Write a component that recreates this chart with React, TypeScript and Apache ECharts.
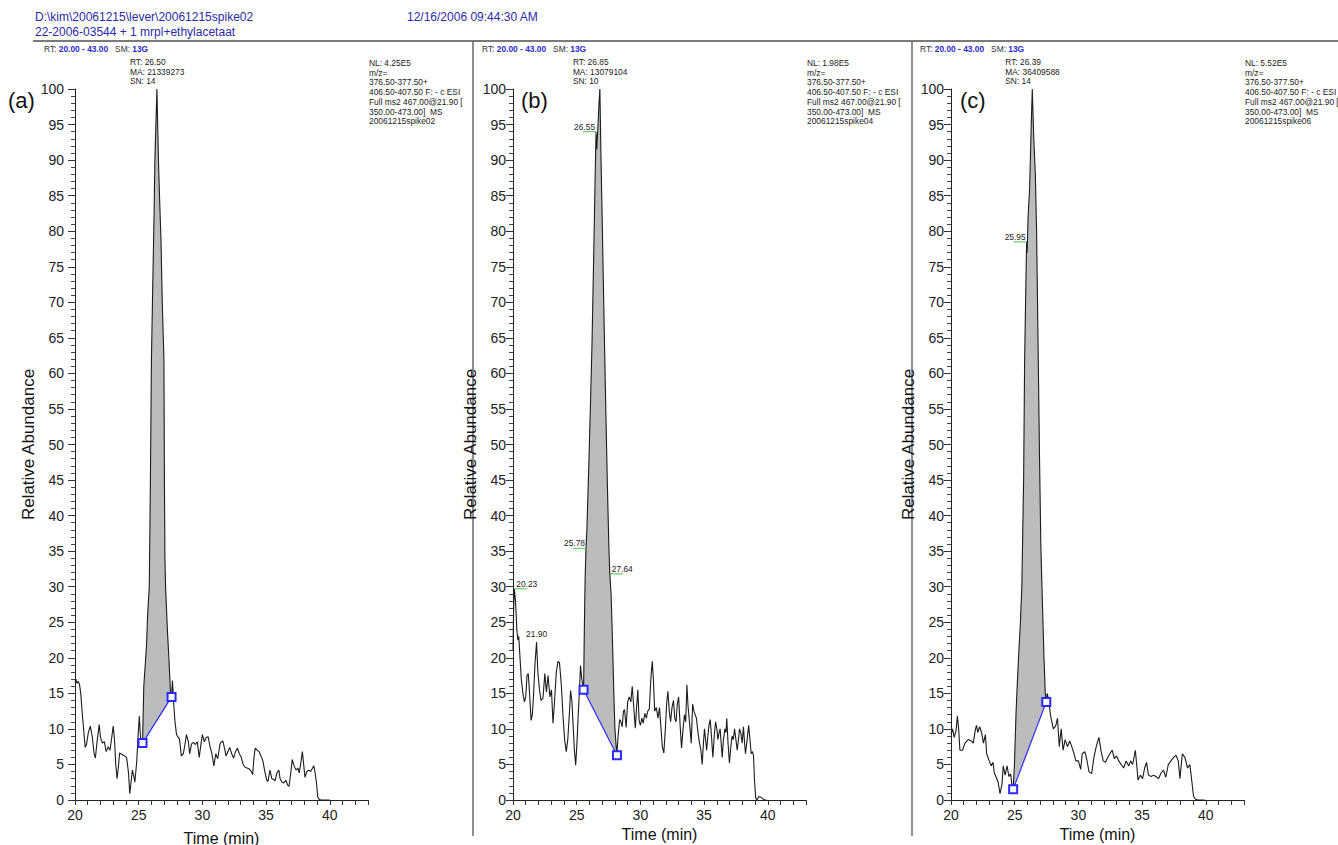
import React, { useEffect, useRef } from "react";
import * as echarts from "echarts";

// ---------- data ----------
const X_MIN = 20;
const X_MAX = 43;
const xLabelValues = [20, 25, 30, 35, 40];

const traceA: [number, number][] = [
  [20.0, 16.6], [20.08, 17.0], [20.15, 16.4], [20.25, 16.7], [20.35, 16.3], [20.45, 15.0], [20.6, 11.5], [20.8, 7.4],
  [20.9, 7.8], [21.05, 9.5], [21.2, 10.4], [21.35, 9.0], [21.5, 6.5], [21.6, 5.9], [21.75, 8.5], [21.9, 10.6],
  [22.0, 8.8], [22.15, 8.0], [22.3, 8.2], [22.45, 6.8], [22.6, 7.5], [22.75, 7.0], [22.9, 9.0], [23.0, 10.4],
  [23.1, 8.5], [23.2, 5.0], [23.3, 3.0], [23.4, 4.5], [23.5, 6.6], [23.7, 6.4], [23.9, 6.2], [24.05, 6.0],
  [24.2, 3.8], [24.3, 0.9], [24.4, 2.5], [24.5, 4.2], [24.6, 3.5], [24.7, 2.5], [24.85, 5.5], [24.95, 9.0],
  [25.05, 11.8], [25.15, 8.5], [25.3, 8.0], [25.4, 16.0], [25.55, 20.0], [25.62, 22.0], [25.7, 26.0], [25.83, 30.0],
  [25.92, 45.0], [26.0, 62.0], [26.1, 72.0], [26.2, 81.6], [26.27, 90.0], [26.43, 100.0], [26.55, 90.0],
  [26.65, 84.0], [26.75, 78.8], [26.85, 70.0], [26.98, 62.0], [27.02, 45.0], [27.06, 34.0], [27.11, 30.0],
  [27.25, 24.0], [27.37, 20.0], [27.5, 15.0], [27.58, 14.6], [27.65, 16.8], [27.75, 13.5], [27.85, 11.0],
  [27.97, 9.2], [28.1, 8.8], [28.2, 8.6], [28.35, 6.2], [28.5, 6.5], [28.65, 8.0], [28.75, 9.2], [28.9, 8.2],
  [29.0, 6.5], [29.15, 7.9], [29.3, 8.1], [29.45, 7.8], [29.6, 8.2], [29.75, 6.0], [29.9, 8.0], [30.0, 9.2],
  [30.15, 8.2], [30.3, 8.8], [30.45, 8.9], [30.6, 7.5], [30.75, 6.5], [30.9, 4.8], [31.05, 6.5], [31.2, 5.8],
  [31.4, 8.0], [31.6, 8.3], [31.75, 7.2], [31.85, 6.2], [32.0, 6.8], [32.15, 7.4], [32.3, 6.5], [32.45, 5.9],
  [32.6, 6.8], [32.75, 7.3], [32.9, 6.5], [33.05, 6.0], [33.2, 5.0], [33.35, 4.6], [33.5, 4.5], [33.65, 4.4],
  [33.8, 4.1], [33.95, 3.6], [34.05, 6.0], [34.15, 7.3], [34.3, 7.0], [34.45, 6.8], [34.6, 6.2], [34.75, 5.5],
  [34.9, 4.0], [35.05, 2.8], [35.15, 2.6], [35.3, 4.2], [35.45, 3.0], [35.6, 2.9], [35.7, 2.7], [35.85, 3.8],
  [36.0, 4.2], [36.1, 3.0], [36.25, 2.5], [36.4, 2.4], [36.55, 2.8], [36.7, 2.1], [36.8, 1.9], [36.95, 4.0],
  [37.05, 5.7], [37.2, 4.8], [37.35, 4.2], [37.5, 4.5], [37.6, 3.8], [37.75, 5.5], [37.85, 6.8], [37.95, 5.0],
  [38.05, 3.2], [38.2, 4.0], [38.35, 4.2], [38.5, 4.0], [38.65, 4.5], [38.75, 4.8], [38.85, 3.8], [38.95, 2.5],
  [39.05, 0.5], [39.15, 0.1], [39.3, 0.0], [40.0, 0.0],
];

const traceB: [number, number][] = [
  [20.0, 21], [20.04, 26], [20.1, 29.7], [20.2, 28], [20.3, 24], [20.38, 22.5], [20.45, 23], [20.55, 20],
  [20.65, 17], [20.78, 15], [20.9, 13.8], [21.0, 14.5], [21.1, 17.5], [21.2, 17.8], [21.3, 15], [21.42, 11.2],
  [21.52, 12], [21.62, 15], [21.72, 19], [21.85, 22.2], [21.95, 18], [22.08, 15.5], [22.2, 14], [22.35, 14.3],
  [22.5, 17.8], [22.62, 15.2], [22.75, 17.5], [22.9, 14.5], [23.02, 15.5], [23.14, 10.8], [23.25, 13.5],
  [23.4, 18], [23.53, 19.5], [23.65, 19.3], [23.8, 16], [23.92, 12], [24.05, 8.5], [24.18, 6.8], [24.3, 8.5],
  [24.42, 12], [24.52, 15.4], [24.62, 14], [24.72, 10.5], [24.82, 7], [24.92, 4.9], [25.02, 8], [25.12, 12],
  [25.22, 15.5], [25.3, 18.9], [25.4, 17], [25.54, 15.5], [25.6, 24], [25.66, 31], [25.73, 35.4], [25.8, 38],
  [25.95, 47], [26.1, 57], [26.2, 64], [26.35, 78], [26.45, 88], [26.52, 94], [26.57, 91.5], [26.65, 94],
  [26.75, 98], [26.82, 100], [26.9, 91], [27.0, 82], [27.1, 72], [27.25, 58], [27.4, 45], [27.52, 36],
  [27.6, 31.8], [27.7, 29], [27.8, 23], [27.9, 16], [28.0, 10], [28.1, 7.5], [28.16, 6.5], [28.25, 9],
  [28.37, 11.3], [28.47, 11], [28.57, 10.3], [28.67, 12.5], [28.76, 12.7], [28.88, 10.2], [29.0, 13.8],
  [29.12, 14.5], [29.25, 13.8], [29.36, 16], [29.48, 13], [29.6, 10.1], [29.7, 13], [29.8, 15.5], [29.9, 11.2],
  [30.0, 10.5], [30.12, 11.5], [30.22, 10.8], [30.35, 12.2], [30.47, 11.5], [30.58, 12.5], [30.7, 12.8],
  [30.82, 17], [30.93, 19.5], [31.02, 17], [31.12, 12.5], [31.25, 13], [31.38, 11.5], [31.5, 13], [31.62, 10],
  [31.72, 7.5], [31.84, 6.6], [31.96, 10], [32.06, 13.5], [32.16, 15.3], [32.27, 12.5], [32.37, 11],
  [32.48, 13], [32.6, 14], [32.7, 11.5], [32.8, 11], [32.9, 13.5], [33.0, 14.5], [33.12, 10.5], [33.23, 7.3],
  [33.35, 10], [33.46, 12], [33.56, 11], [33.65, 16.2], [33.73, 13.5], [33.8, 12], [33.9, 10], [33.99, 8],
  [34.1, 13.5], [34.2, 12.5], [34.3, 12], [34.4, 11.5], [34.52, 9.5], [34.64, 8], [34.75, 7], [34.85, 5],
  [34.95, 8], [35.03, 10], [35.12, 8.5], [35.2, 7], [35.3, 9], [35.38, 10.5], [35.48, 11.3], [35.58, 9],
  [35.69, 6], [35.8, 9], [35.9, 11], [36.0, 10], [36.08, 8.5], [36.18, 9.5], [36.26, 10], [36.34, 8],
  [36.42, 6], [36.52, 8.5], [36.63, 10], [36.72, 9.5], [36.78, 11.5], [36.88, 8], [36.99, 5.2], [37.1, 7.5],
  [37.2, 9], [37.3, 8.5], [37.39, 10], [37.5, 8.5], [37.6, 7], [37.7, 8.5], [37.78, 10], [37.88, 9.5],
  [37.99, 8], [38.09, 10.3], [38.18, 8], [38.25, 6.5], [38.38, 8.5], [38.5, 10.5], [38.6, 8.5], [38.7, 6.5],
  [38.8, 6.8], [38.88, 6.2], [38.95, 3], [39.05, 0.3], [39.15, 0], [39.3, 0.5], [39.45, 0.4], [39.6, 0.2],
  [39.75, 0], [39.9, 0],
];

const traceC: [number, number][] = [
  [20.0, 9.3], [20.12, 10], [20.25, 8.8], [20.4, 9.8], [20.5, 11.8], [20.6, 10], [20.7, 7], [20.9, 7],
  [21.1, 8], [21.35, 8.5], [21.6, 8.3], [21.75, 8], [21.9, 9.8], [22.0, 10.5], [22.1, 9.5], [22.25, 10.3],
  [22.4, 9.5], [22.55, 8], [22.7, 9.2], [22.8, 6.5], [23.0, 5.5], [23.15, 4.8], [23.3, 5.3], [23.4, 3.8],
  [23.55, 3.2], [23.7, 2.5], [23.85, 0.9], [24.0, 2.2], [24.1, 4.8], [24.25, 3.5], [24.4, 4.8], [24.55, 3.3],
  [24.68, 3.7], [24.78, 2.2], [24.88, 1.5], [24.98, 5], [25.1, 12], [25.17, 15], [25.3, 20], [25.45, 25],
  [25.56, 30], [25.7, 45], [25.78, 62], [25.9, 75], [25.94, 78.5], [25.98, 77], [26.05, 82], [26.17, 86],
  [26.3, 95], [26.38, 100], [26.5, 93], [26.62, 88], [26.72, 80], [26.85, 62], [26.95, 48], [27.05, 36],
  [27.14, 30], [27.3, 20], [27.4, 15], [27.48, 13.8], [27.55, 15], [27.62, 14.5], [27.71, 13.5], [27.8, 12],
  [27.92, 11], [28.03, 10], [28.13, 10.2], [28.23, 10.5], [28.36, 11.5], [28.5, 7.5], [28.65, 10], [28.8, 7],
  [28.96, 8.5], [29.14, 7.5], [29.32, 8.3], [29.48, 7.5], [29.66, 6.5], [29.8, 5.5], [30.0, 5.5], [30.18, 4.3],
  [30.3, 6.5], [30.5, 6.8], [30.65, 5.8], [30.83, 4], [31.04, 3.7], [31.22, 6], [31.4, 7.5], [31.61, 8.8],
  [31.79, 6.8], [31.95, 5.5], [32.13, 5.3], [32.31, 6], [32.47, 6.5], [32.65, 7], [32.83, 5.8], [32.99, 6.2],
  [33.17, 5.5], [33.35, 5], [33.56, 4.5], [33.74, 5.5], [33.95, 4.8], [34.1, 5.5], [34.26, 5], [34.47, 7],
  [34.6, 4.5], [34.68, 2.8], [34.86, 3.5], [35.04, 3], [35.2, 4.5], [35.35, 5.3], [35.5, 3.5], [35.71, 3.3],
  [35.9, 3.5], [36.08, 3.3], [36.29, 3], [36.49, 3.8], [36.68, 4.2], [36.86, 3.2], [37.06, 5], [37.27, 5.5],
  [37.48, 6], [37.66, 6.3], [37.84, 5.5], [37.97, 3], [38.16, 6.5], [38.36, 6], [38.57, 4.5], [38.75, 5],
  [38.88, 3], [39.04, 0.5], [39.2, 0.1], [39.4, 0], [39.92, 0],
];

const baselineA: [number, number][] = [[25.3, 8.0], [27.58, 14.5]];
const baselineB: [number, number][] = [[25.54, 15.5], [28.16, 6.3]];
const baselineC: [number, number][] = [[24.88, 1.5], [27.48, 13.8]];

const apexA: [number, number] = [26.43, 100];
const apexB: [number, number] = [26.82, 100];
const apexC: [number, number] = [26.38, 100];

const peakInfoA = ["RT: 26.50", "MA: 21339273", "SN: 14"];
const peakInfoB = ["RT: 26.85", "MA: 13079104", "SN: 10"];
const peakInfoC = ["RT: 26.39", "MA: 36409588", "SN: 14"];

// [time, abundance, text, side]
const peakLabelsA: [number, number, string, string][] = [];
const peakLabelsB: [number, number, string, string][] = [
  [20.1, 29.7, "20.23", "right"],
  [21.85, 22.2, "21.90", "center"],
  [25.73, 35.4, "25.78", "left"],
  [26.52, 94, "26.55", "left"],
  [27.6, 31.8, "27.64", "right"],
];
const peakLabelsC: [number, number, string, string][] = [[25.94, 78.5, "25.95", "left"]];

const nlValues = ["4.25E5", "1.98E5", "5.52E5"];
const rawFiles = ["20061215spike02", "20061215spike04", "20061215spike06"];
const panelLetters = ["(a)", "(b)", "(c)"];

const headerPath = "D:\\kim\\20061215\\lever\\20061215spike02";
const headerSample = "22-2006-03544 + 1 mrpl+ethylacetaat";
const headerDate = "12/16/2006 09:44:30 AM";

// ---------- layout ----------
const FONT = "'Liberation Sans', Arial, sans-serif";
const SMALL = `8.4px ${FONT}`;
const GRID_LEFTS = [75, 513, 951];
const GRID_TOP = 89;
const GRID_W = 293;
const GRID_H = 711;
const LABEL_MARGINS = [11, 7, 7];
const YNAME_GAPS = [36, 22, 23];
const XNAME_GAPS = [30, 23, 22];
const LETTER_X = [8, 521, 960];

const App: React.FC = () => {
  const ref = useRef<HTMLDivElement>(null);

  useEffect(() => {
    if (!ref.current) return;
    const chart = echarts.init(ref.current, undefined, { renderer: "svg" });

    const panels = [
      { trace: traceA, base: baselineA, apex: apexA, info: peakInfoA, labels: peakLabelsA },
      { trace: traceB, base: baselineB, apex: apexB, info: peakInfoB, labels: peakLabelsB },
      { trace: traceC, base: baselineC, apex: apexC, info: peakInfoC, labels: peakLabelsC },
    ];

    const grid = panels.map((_, i) => ({
      left: GRID_LEFTS[i],
      top: GRID_TOP,
      width: GRID_W,
      height: GRID_H,
      containLabel: false,
      outerBoundsMode: "none",
    }));

    const xAxis = panels.map((_, i) => ({
      type: "value",
      gridIndex: i,
      min: X_MIN,
      max: X_MAX,
      interval: 1,
      name: "Time (min)",
      nameLocation: "middle",
      nameGap: XNAME_GAPS[i],
      nameTextStyle: { fontFamily: FONT, fontSize: 16, color: "#111" },
      axisLine: { show: true, onZero: false, lineStyle: { color: "#222", width: 1 } },
      axisTick: { show: true, length: 5, lineStyle: { color: "#333" } },
      axisLabel: {
        fontFamily: FONT,
        fontSize: 14,
        color: "#222",
        margin: 8,
        showMaxLabel: true,
        formatter: (v: number) =>
          xLabelValues.indexOf(Math.round(v)) >= 0 && Math.abs(v - Math.round(v)) < 1e-6 ? String(Math.round(v)) : "",
      },
      splitLine: { show: false },
    }));

    const yAxis = panels.map((_, i) => ({
      type: "value",
      gridIndex: i,
      min: 0,
      max: 100,
      interval: 5,
      name: "Relative Abundance",
      nameLocation: "middle",
      nameGap: YNAME_GAPS[i],
      nameTextStyle: { fontFamily: FONT, fontSize: 17, color: "#111" },
      axisLine: { show: true, lineStyle: { color: "#222", width: 1 } },
      axisTick: { show: true, length: 7, lineStyle: { color: "#333" } },
      minorTick: { show: true, splitNumber: 5, length: 4, lineStyle: { color: "#444" } },
      axisLabel: { fontFamily: FONT, fontSize: 14, color: "#222", margin: LABEL_MARGINS[i] },
      splitLine: { show: false },
    }));

    const series: any[] = [];
    panels.forEach((p, i) => {
      const { trace, base } = p;
      series.push({
        type: "custom",
        xAxisIndex: i,
        yAxisIndex: i,
        coordinateSystem: "cartesian2d",
        data: [base[0]],
        z: 1,
        silent: true,
        renderItem: (_params: any, api: any) => {
          const pts: number[][] = [api.coord(base[0])];
          trace.forEach(([t, v]) => {
            if (t > base[0][0] && t < base[1][0]) pts.push(api.coord([t, v]));
          });
          pts.push(api.coord(base[1]));
          return {
            type: "polygon",
            shape: { points: pts },
            style: { fill: "#bcbcbc", stroke: "none" },
          };
        },
      });
      series.push({
        type: "line",
        xAxisIndex: i,
        yAxisIndex: i,
        data: trace,
        symbol: "none",
        z: 3,
        silent: true,
        lineStyle: { color: "#1c1c1c", width: 1.1 },
      });
      series.push({
        type: "line",
        xAxisIndex: i,
        yAxisIndex: i,
        data: base,
        symbol: "emptyRect",
        symbolSize: 8,
        z: 4,
        silent: true,
        itemStyle: { color: "#2a2aff", borderWidth: 1 },
        lineStyle: { color: "#2a2aff", width: 1.2 },
      });
      series.push({
        type: "custom",
        xAxisIndex: i,
        yAxisIndex: i,
        coordinateSystem: "cartesian2d",
        data: [p.apex],
        z: 5,
        silent: true,
        renderItem: (_params: any, api: any) => {
          const [x, y] = api.coord(p.apex);
          return {
            type: "group",
            children: p.info.map((line, k) => ({
              type: "text",
              x: x - 27,
              y: y - 27 + k * 9.6,
              style: { text: line, fill: "#222", font: SMALL, align: "left", verticalAlign: "middle" },
            })),
          };
        },
      });
      if (p.labels.length) {
        series.push({
          type: "custom",
          xAxisIndex: i,
          yAxisIndex: i,
          coordinateSystem: "cartesian2d",
          data: p.labels.map((l) => [l[0], l[1]]),
          z: 6,
          silent: true,
          renderItem: (params: any, api: any) => {
            const lab = p.labels[params.dataIndex];
            const [x, y] = api.coord([lab[0], lab[1]]);
            const side = lab[3];
            const children: any[] = [];
            if (side === "center") {
              children.push({
                type: "text",
                x,
                y: y - 4,
                style: { text: lab[2], fill: "#222", font: SMALL, align: "center", verticalAlign: "bottom" },
              });
            } else if (side === "right") {
              children.push({
                type: "line",
                shape: { x1: x, y1: y, x2: x + 13, y2: y },
                style: { stroke: "#4cc24c", lineWidth: 1 },
              });
              children.push({
                type: "text",
                x: x + 2,
                y: y - 1,
                style: { text: lab[2], fill: "#222", font: SMALL, align: "left", verticalAlign: "bottom" },
              });
            } else {
              children.push({
                type: "line",
                shape: { x1: x - 13, y1: y, x2: x, y2: y },
                style: { stroke: "#4cc24c", lineWidth: 1 },
              });
              children.push({
                type: "text",
                x: x - 1,
                y: y - 1,
                style: { text: lab[2], fill: "#222", font: SMALL, align: "right", verticalAlign: "bottom" },
              });
            }
            return { type: "group", children };
          },
        });
      }
    });

    const graphic: any[] = [
      { type: "text", left: 35, top: 11, style: { text: headerPath, fill: "#2b2ba6", font: `12px ${FONT}` } },
      { type: "text", left: 35, top: 26, style: { text: headerSample, fill: "#2b2ba6", font: `12px ${FONT}` } },
      { type: "text", left: 407, top: 11, style: { text: headerDate, fill: "#2b2ba6", font: `12px ${FONT}` } },
      { type: "line", shape: { x1: 33, y1: 41, x2: 1338, y2: 41 }, style: { stroke: "#7a7a7a", lineWidth: 2 } },
      { type: "line", shape: { x1: 473, y1: 41, x2: 473, y2: 836 }, style: { stroke: "#6a6a6a", lineWidth: 1.5 } },
      { type: "line", shape: { x1: 912, y1: 41, x2: 912, y2: 836 }, style: { stroke: "#6a6a6a", lineWidth: 1.5 } },
    ];

    panels.forEach((_, i) => {
      const gl = GRID_LEFTS[i];
      graphic.push({
        type: "text",
        x: gl - 31,
        y: 49,
        style: {
          text: "{k|RT:} {v|20.00 - 43.00}   {k|SM:} {v|13G}",
          font: SMALL,
          verticalAlign: "middle",
          rich: {
            k: { fill: "#333", font: SMALL },
            v: { fill: "#2b2bd0", font: `bold 8.4px ${FONT}` },
          },
        },
      });
      const block = [
        `NL: ${nlValues[i]}`,
        "m/z=",
        "376.50-377.50+",
        "406.50-407.50 F: - c ESI",
        "Full ms2 467.00@21.90 [",
        "350.00-473.00]  MS",
        rawFiles[i],
      ];
      block.forEach((line, k) => {
        graphic.push({
          type: "text",
          x: gl + GRID_W + 1,
          y: 63 + k * 9.7,
          style: { text: line, fill: "#222", font: SMALL, verticalAlign: "middle" },
        });
      });
      graphic.push({
        type: "text",
        x: LETTER_X[i],
        y: 100,
        style: { text: panelLetters[i], fill: "#111", font: `22px ${FONT}`, verticalAlign: "middle" },
      });
    });

    chart.setOption({
      animation: false,
      backgroundColor: "#ffffff",
      grid,
      xAxis,
      yAxis,
      series,
      graphic,
    });

    return () => chart.dispose();
  }, []);

  return (
    <div
      ref={ref}
      style={{ position: "absolute", left: 0, top: 0, width: 1338, height: 845, background: "#fff" }}
    />
  );
};

export default App;
